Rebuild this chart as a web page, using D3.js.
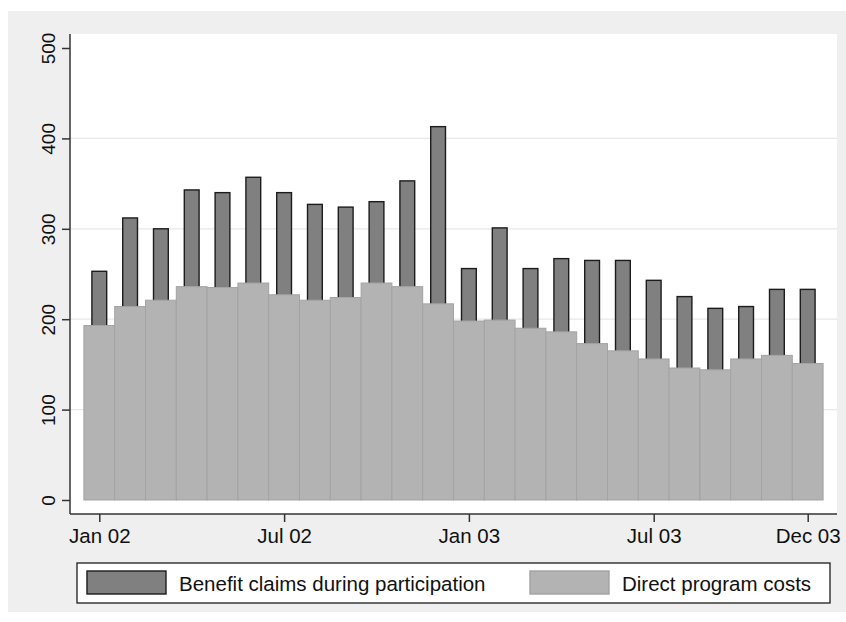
<!DOCTYPE html>
<html>
<head>
<meta charset="utf-8">
<script src="https://cdn.jsdelivr.net/npm/d3@7/dist/d3.min.js"></script>
<style>
  html, body { margin: 0; padding: 0; background: #ffffff; }
  svg { display: block; }
  text { font-family: "Liberation Sans", Arial, Helvetica, sans-serif; fill: #111; }
</style>
</head>
<body>
<svg id="chart" width="846" height="622"></svg>
<script>
// Monthly series, Jan 2002 – Dec 2003
const months = d3.range(24);
const benefitClaims = [253, 312, 300, 343, 340, 357, 340, 327, 324, 330, 353, 413,
                       256, 301, 256, 267, 265, 265, 243, 225, 212, 214, 233, 233];
const programCosts  = [193, 214, 221, 236, 235, 240, 227, 221, 224, 240, 236, 217,
                       198, 199, 190, 186, 173, 165, 156, 146, 144, 156, 160, 151];
const xTickMonths = [0, 6, 12, 18, 23];
const xTickLabels = ["Jan 02", "Jul 02", "Jan 03", "Jul 03", "Dec 03"];
const yTicks = [0, 100, 200, 300, 400, 500];
const seriesNames = ["Benefit claims during participation", "Direct program costs"];

const svg = d3.select("#chart");

// Graph region and plot region
const outer = { x0: 8, y0: 11, x1: 846, y1: 612 };
const plot = { x0: 70, y0: 34, x1: 837, y1: 514 };

svg.append("rect")
  .attr("x", outer.x0).attr("y", outer.y0)
  .attr("width", outer.x1 - outer.x0).attr("height", outer.y1 - outer.y0)
  .attr("fill", "#efefef");

svg.append("rect")
  .attr("x", plot.x0).attr("y", plot.y0)
  .attr("width", plot.x1 - plot.x0).attr("height", plot.y1 - plot.y0)
  .attr("fill", "#ffffff");

const x = d3.scaleLinear().domain([0, 23]).range([99.3, 807.7]);
const y = d3.scaleLinear().domain([0, 500]).range([500, 48]);
const step = x(1) - x(0);

// Horizontal gridlines
svg.append("g")
  .selectAll("line")
  .data(yTicks.filter(v => v > 0 && v < 500))
  .join("line")
  .attr("x1", plot.x0).attr("x2", plot.x1)
  .attr("y1", d => y(d)).attr("y2", d => y(d))
  .attr("stroke", "#e8e8e8").attr("stroke-width", 1.2);

// Narrow dark bars: benefit claims (their base sits behind the light bars)
const hidden = 4;
svg.append("g")
  .selectAll("rect")
  .data(months)
  .join("rect")
  .attr("x", d => x(d) - step * 0.24)
  .attr("width", step * 0.48)
  .attr("y", d => y(benefitClaims[d]))
  .attr("height", d => y(0) - y(benefitClaims[d]) - hidden)
  .attr("fill", "#808080")
  .attr("stroke", "#1c1c1c")
  .attr("stroke-width", 1.4);

// Full-width light bars: direct program costs
svg.append("g")
  .selectAll("rect")
  .data(months)
  .join("rect")
  .attr("x", d => x(d) - step / 2)
  .attr("width", step)
  .attr("y", d => y(programCosts[d]))
  .attr("height", d => y(0) - y(programCosts[d]))
  .attr("fill", "#b3b3b3")
  .attr("stroke", "#a3a3a3")
  .attr("stroke-width", 1);

// Y axis
const yAxis = svg.append("g")
  .attr("transform", `translate(${plot.x0},0)`)
  .call(d3.axisLeft(y).tickValues(yTicks).tickSize(8).tickSizeOuter(0).tickFormat(d3.format("d")));
yAxis.select(".domain").remove();
yAxis.selectAll(".tick line").attr("stroke", "#333").attr("stroke-width", 1.5);
yAxis.selectAll(".tick text")
  .attr("transform", "rotate(-90)")
  .attr("x", 0).attr("y", -15).attr("dy", 0)
  .attr("text-anchor", "middle")
  .style("font-size", "19px")
  .style("font-family", "'Liberation Sans', Arial, sans-serif")
  .attr("fill", "#111");
svg.append("line")
  .attr("x1", plot.x0).attr("x2", plot.x0)
  .attr("y1", plot.y0).attr("y2", plot.y1)
  .attr("stroke", "#333").attr("stroke-width", 1.5);

// X axis
const xAxis = svg.append("g")
  .attr("transform", `translate(0,${plot.y1})`)
  .call(d3.axisBottom(x).tickValues(xTickMonths).tickSize(8).tickSizeOuter(0)
    .tickFormat((d, i) => xTickLabels[i]));
xAxis.select(".domain").remove();
xAxis.selectAll(".tick line").attr("stroke", "#333").attr("stroke-width", 1.5);
xAxis.selectAll(".tick text")
  .attr("y", 29).attr("dy", 0)
  .style("font-size", "20.5px")
  .style("font-family", "'Liberation Sans', Arial, sans-serif")
  .attr("fill", "#111");
svg.append("line")
  .attr("x1", plot.x0).attr("x2", plot.x1)
  .attr("y1", plot.y1).attr("y2", plot.y1)
  .attr("stroke", "#333").attr("stroke-width", 1.5);

// Legend
const legend = svg.append("g");
legend.append("rect")
  .attr("x", 77).attr("y", 563).attr("width", 753).attr("height", 40)
  .attr("fill", "#ffffff").attr("stroke", "#1c1c1c").attr("stroke-width", 1.3);

const legendItems = [
  { name: seriesNames[0], sx: 87, fill: "#808080", stroke: "#1c1c1c" },
  { name: seriesNames[1], sx: 530, fill: "#b3b3b3", stroke: "#a3a3a3" }
];
legendItems.forEach(item => {
  legend.append("rect")
    .attr("x", item.sx).attr("y", 571).attr("width", 79).attr("height", 23)
    .attr("fill", item.fill).attr("stroke", item.stroke).attr("stroke-width", 1.4);
  legend.append("text")
    .attr("x", item.sx + 92).attr("y", 590.5)
    .style("font-size", "20.5px")
    .text(item.name);
});
</script>
</body>
</html>
